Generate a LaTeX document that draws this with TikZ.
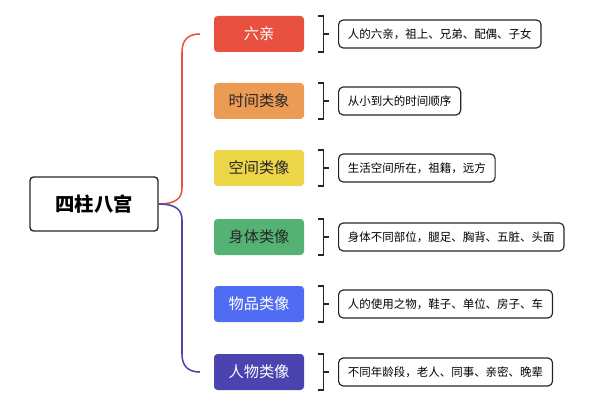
\documentclass[tikz,border=0pt]{standalone}
\usepackage{fontspec}
\setmainfont{Noto Sans CJK SC}
\usetikzlibrary{calc,positioning}
\definecolor{cred}{HTML}{E8503F}
\definecolor{corange}{HTML}{EC9B55}
\definecolor{cyellow}{HTML}{EDD548}
\definecolor{cgreen}{HTML}{55B275}
\definecolor{cblue}{HTML}{4F6CF2}
\definecolor{cindigo}{HTML}{4A43B0}
\definecolor{cline}{HTML}{24252B}
\tikzset{
  catbox/.style={rounded corners=3pt, minimum width=2.7cm, minimum height=1.08cm, font=\fontsize{13}{15}\selectfont},
  detbox/.style={draw=cline, line width=1pt, rounded corners=4pt, minimum height=0.84cm, inner xsep=8pt, font=\fontsize{9.8}{11}\selectfont, anchor=west},
}
\begin{document}
\begin{tikzpicture}[x=0.03cm, y=-0.03cm]
        \useasboundingbox (0,0) rectangle (600,400);
        \node [draw=cline, line width=1.2pt, rounded corners=3pt, minimum width=3.84cm, minimum height=1.62cm, font=\fontsize{16.5}{18}\selectfont\bfseries] (root) at (94,204) {四柱八宫};

        \node [catbox, fill=cred, text=white] (c1) at (259,34) {六亲};
        \node [catbox, fill=corange, text=black!85] (c2) at (259,101) {时间类象};
        \node [catbox, fill=cyellow, text=black!85] (c3) at (259,168) {空间类像};
        \node [catbox, fill=cgreen, text=black!85] (c4) at (259,237) {身体类像};
        \node [catbox, fill=cblue, text=white] (c5) at (259,304) {物品类像};
        \node [catbox, fill=cindigo, text=white] (c6) at (259,372) {人物类像};

        \node [detbox] (d1) at (338,34) {人的六亲，祖上、兄弟、配偶、子女};
        \node [detbox] (d2) at (338,101) {从小到大的时间顺序};
        \node [detbox] (d3) at (338,168) {生活空间所在，祖籍，远方};
        \node [detbox] (d4) at (338,237) {身体不同部位，腿足、胸背、五脏、头面};
        \node [detbox] (d5) at (338,304) {人的使用之物，鞋子、单位、房子、车};
        \node [detbox] (d6) at (338,372) {不同年龄段，老人、同事、亲密、晚辈};

        % brace
        \coordinate (top) at (200,34);
        \coordinate (bot) at (200,372);
        \draw [cred, line width=1.3pt] (root.east) .. controls (176,204) and (182,198) .. (182,188) -- (182,52) .. controls (182,40) and (188,34) .. (top);
        \draw [cindigo, line width=1.3pt] (root.east) .. controls (176,204) and (182,210) .. (182,220) -- (182,354) .. controls (182,366) and (188,372) .. (bot);

        % brackets
        \foreach \i in {1,...,6} {
            \draw [cline, line width=1.2pt] ($(c\i.east)+(14,-18)$) -- ++(5,0) -- ++(0,36) -- ++(-5,0);
            \draw [cline, line width=1.2pt] ($(c\i.east)+(19,0)$) -- (d\i.west -| {$(c\i.east)+(25,0)$});
        }
\end{tikzpicture}
\end{document}
